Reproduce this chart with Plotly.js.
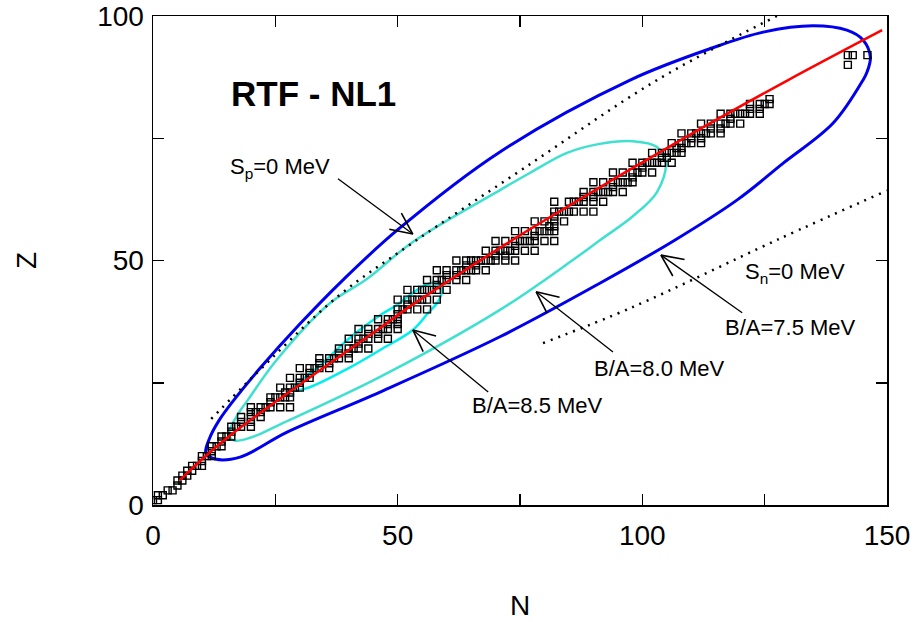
<!DOCTYPE html>
<html><head><meta charset="utf-8">
<script src="https://cdn.plot.ly/plotly-3.0.1.min.js"></script>
<style>body{margin:0;background:#fff}#chart{width:916px;height:622px}</style>
</head><body><div id="chart"></div>
<script>
// Stable nuclides: proton number Z and the neutron numbers N present in that row
const rowZ = [1,2,3,4,5,6,7,8,9,10,11,12,13,14,15,16,17,18,19,20,21,22,23,24,25,26,27,28,29,30,
  31,32,33,34,35,36,37,38,39,40,41,42,44,45,46,47,48,49,50,51,52,53,54,55,56,57,58,59,60,
  62,63,64,65,66,67,68,69,70,71,72,73,74,75,76,77,78,79,80,81,82,83,90,92];
const rowN = [[0,1],[1,2],[3,4],[5],[5,6],[6,7],[7,8],[8,9,10],[10],[10,11,12],[12],[12,13,14],[14],
  [14,15,16],[16],[16,17,18,20],[18,20],[18,20,22],[20,21,22],[20,22,23,24,26,28],[24],
  [24,25,26,27,28],[27,28],[26,28,29,30],[30],[28,30,31,32],[32],[30,32,33,34,36],[34,36],
  [34,36,37,38,40],[38,40],[38,40,41,42,44],[42],[40,42,43,44,46,48],[44,46],[42,44,46,47,48,50],
  [48,50],[46,48,49,50],[50],[50,51,52,54,56],[52],[50,52,53,54,55,56,58],[52,54,55,56,57,58,60],
  [58],[56,58,59,60,62,64],[60,62],[58,60,62,63,64,65,66,68],[64,66],[62,64,65,66,67,68,69,70,72,74],
  [70,72],[68,70,71,72,73,74,76,78],[74],[70,72,74,75,76,77,78,80,82],[78],[74,76,78,79,80,81,82],
  [81,82],[78,80,82,84],[82],[82,83,84,85,86,88,90],[82,85,86,87,88,90,92],[88,90],
  [88,90,91,92,93,94,96],[94],[90,92,94,95,96,97,98],[98],[94,96,98,99,100,102],[100],
  [98,100,101,102,103,104,106],[104,105],[102,104,105,106,107,108],[107,108],[106,108,109,110,112],
  [110,112],[108,110,111,112,113,114,116],[114,116],[112,114,116,117,118,120],[118],
  [116,118,119,120,121,122,124],[122,124],[122,124,125,126],[126],[142],[142,143,146]];

// Stability line (red)
const redN = [5.5, 15.1, 46.4, 51.5, 70.9, 77.0, 111.8, 129.8, 149];
const redZ = [5.1, 13.7, 36.2, 39.9, 52.6, 56.4, 76.9, 86.9, 97.1];

// B/A = 7.5 MeV contour (blue), traced from the upper branch round the loop
const ba75N = [97.5,114.4,124.7,134.9,141.8,145.1,146.6,145.9,145.1,139.0,128.8,119.4,106.7,91.4,70.9,46.4,27.4,17.8,12.7,10.8,11.5,13.5,16.8,21.9,30.0,38.8,49.9,70.9,97.5];
const ba75Z = [86.9,93.5,96.7,98.0,97.1,95.1,91.6,88.5,86.9,78.1,69.9,62.4,54.2,45.4,34.4,23.1,14.9,9.8,9.4,10.6,13.5,17.3,21.8,28.0,37.0,46.0,56.2,72.2,86.9];

// B/A = 8.0 MeV contour (turquoise)
const ba80N = [70.9,77.0,84.6,91.0,98.1,103.0,104.8,103.0,98.0,91.4,85.8,70.9,46.4,26.0,20.0,16.5,15.5,17.0,19.4,25.3,36.2,43.7,53.1,70.9];
const ba80Z = [64.4,67.9,72.0,73.8,74.4,73.2,69.9,64.0,59.0,54.2,50.1,39.9,26.2,16.5,13.8,13.2,14.5,18.0,21.5,29.7,41.3,46.2,53.8,64.4];

// B/A = 8.5 MeV contour (cyan)
const ba85N = [46.4,50.0,54.0,57.0,59.0,58.5,56.0,53.1,46.4,40.0,31.5,28.4,34.7,40.0,46.4];
const ba85Z = [38.8,41.0,44.0,45.4,44.5,42.0,39.0,35.8,31.7,28.0,23.9,23.5,29.0,34.0,38.8];

// Separation energy lines (dotted)
const spN = [11.9, 20.4, 37.6, 52.9, 76.0, 103.0, 127.5];
const spZ = [17.6, 26.2, 42.5, 53.5, 69.0, 86.9, 100.0];
const snN = [79.7, 98.1, 127.5, 150.0];
const snZ = [33.1, 40.5, 54.2, 64.3];

// Labels
const labels = [
  {text: 'S<sub>p</sub>=0 MeV', N: 15.3, Z: 68.9},
  {text: 'S<sub>n</sub>=0 MeV', N: 120.6, Z: 47.4},
  {text: 'B/A=7.5 MeV', N: 116.5, Z: 36.2},
  {text: 'B/A=8.0 MeV', N: 89.7, Z: 28.0},
  {text: 'B/A=8.5 MeV', N: 64.8, Z: 20.4}
];
// arrows: tail -> tip
const arrows = [
  {from: [37.8, 66.7], to: [53.1, 55.4]},
  {from: [120.4, 39.3], to: [103.8, 51.1]},
  {from: [94.0, 31.3], to: [78.3, 43.6]},
  {from: [68.5, 23.1], to: [53.1, 35.8]}
];

const FONT = 'Liberation Sans, Arial, sans-serif';
const nucN = [], nucZ = [];
rowZ.forEach((z, i) => rowN[i].forEach(n => { nucN.push(n); nucZ.push(z); }));

const traces = [
  {x: ba75N, y: ba75Z, mode: 'lines', line: {color: '#0000ee', width: 3, shape: 'spline', smoothing: 1}, hoverinfo: 'skip'},
  {x: ba80N, y: ba80Z, mode: 'lines', line: {color: '#40e0d0', width: 2.5, shape: 'spline', smoothing: 1}, hoverinfo: 'skip'},
  {x: ba85N, y: ba85Z, mode: 'lines', line: {color: '#00eeee', width: 2.5, shape: 'spline', smoothing: 1}, hoverinfo: 'skip'},
  {x: spN, y: spZ, mode: 'lines', line: {color: '#000', width: 2.5, dash: '2px,6px', shape: 'spline'}, hoverinfo: 'skip'},
  {x: snN, y: snZ, mode: 'lines', line: {color: '#000', width: 2.5, dash: '2px,6px', shape: 'spline'}, hoverinfo: 'skip'},
  {x: nucN, y: nucZ, mode: 'markers', marker: {symbol: 'square-open', size: 7, color: '#000', line: {width: 1.4, color: '#000'}}},
  {x: redN, y: redZ, mode: 'lines', line: {color: '#ff0000', width: 2.5, shape: 'spline'}, hoverinfo: 'skip'}
];

const SX = 4.893, SY = 4.89, ARM = 24, HALF = 25 * Math.PI / 180;
const shapes = [];
arrows.forEach(a => {
  shapes.push({type: 'line', xref: 'x', yref: 'y', x0: a.from[0], y0: a.from[1], x1: a.to[0], y1: a.to[1], line: {color: '#000', width: 1.3}});
  const dx = (a.from[0] - a.to[0]) * SX, dy = (a.from[1] - a.to[1]) * SY;
  const ang = Math.atan2(dy, dx);
  [ang + HALF, ang - HALF].forEach(t => {
    shapes.push({type: 'line', xref: 'x', yref: 'y', x0: a.to[0], y0: a.to[1],
      x1: a.to[0] + ARM * Math.cos(t) / SX, y1: a.to[1] + ARM * Math.sin(t) / SY,
      line: {color: '#000', width: 1.6}});
  });
});

const annotations = labels.map(l => ({
  x: l.N, y: l.Z, xref: 'x', yref: 'y', text: l.text, showarrow: false,
  xanchor: 'left', yanchor: 'middle', font: {family: FONT, size: 22, color: '#000'}
}));
annotations.push({x: 32.7, y: 84.2, xref: 'x', yref: 'y', text: '<b>RTF - NL1</b>', showarrow: false,
  xanchor: 'center', yanchor: 'middle', font: {family: FONT, size: 35, color: '#000'}});

const minorTicks = {ticks: 'inside', ticklen: 11, tickwidth: 1.5, tickcolor: '#000', showgrid: false};
const axisCommon = {
  showline: true, linecolor: '#000', linewidth: 1.5, mirror: 'ticks',
  ticks: 'inside', ticklen: 11, tickwidth: 1.5, tickcolor: '#000',
  showgrid: false, zeroline: false,
  tickfont: {family: FONT, size: 28, color: '#000'}
};

const layout = {
  width: 916, height: 622,
  margin: {l: 153, r: 29, t: 16, b: 117},
  paper_bgcolor: '#fff', plot_bgcolor: '#fff',
  showlegend: false,
  xaxis: Object.assign({}, axisCommon, {
    range: [0, 150], tickvals: [0, 50, 100, 150],
    minor: Object.assign({tickvals: [25, 75, 125]}, minorTicks),
    ticklabelstandoff: 5,
    title: {text: 'N', font: {family: FONT, size: 28, color: '#000'}, standoff: 45}
  }),
  yaxis: Object.assign({}, axisCommon, {
    range: [0, 100], tickvals: [0, 50, 100],
    minor: Object.assign({tickvals: [25, 75]}, minorTicks),
    ticklabelstandoff: 2,
    title: {text: 'Z', font: {family: FONT, size: 28, color: '#000'}, standoff: 52}
  }),
  shapes: shapes,
  annotations: annotations
};

Plotly.newPlot('chart', traces, layout, {displayModeBar: false, staticPlot: true});
</script></body></html>
